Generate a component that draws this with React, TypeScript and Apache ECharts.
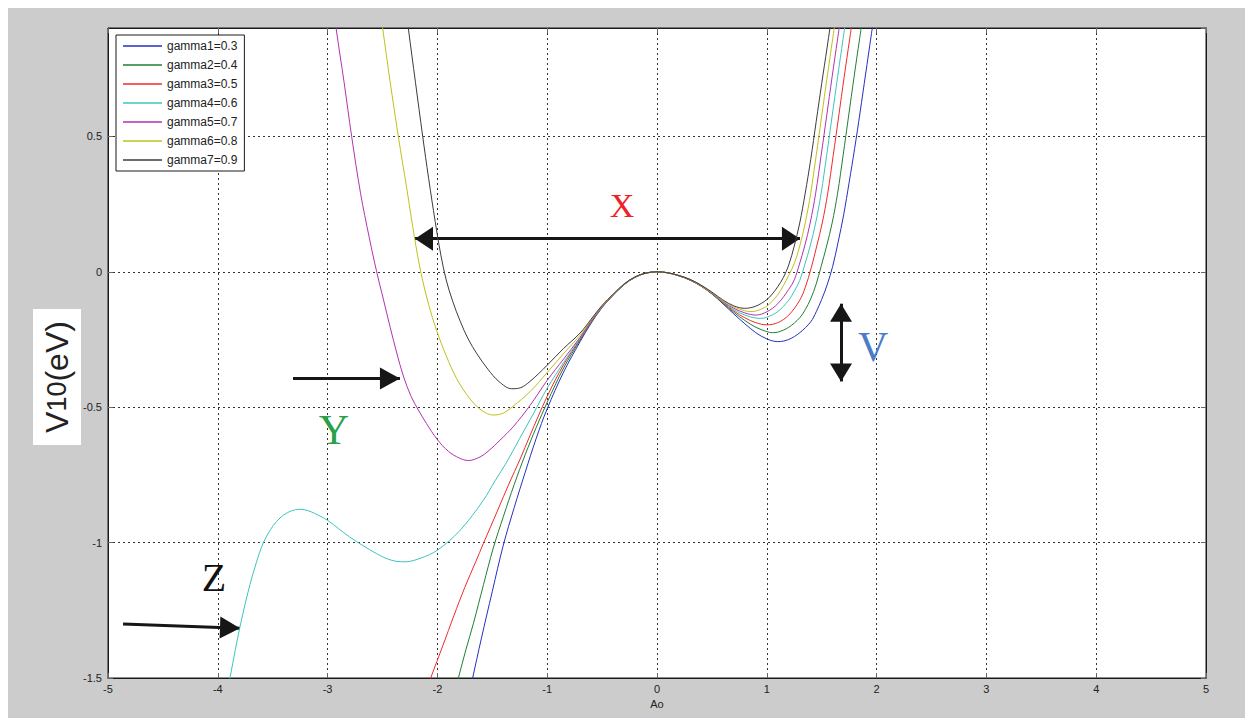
import React, { useEffect, useRef } from "react";
import * as echarts from "echarts";

// ---------- data ----------
const gammaNames = [
  "gamma1=0.3",
  "gamma2=0.4",
  "gamma3=0.5",
  "gamma4=0.6",
  "gamma5=0.7",
  "gamma6=0.8",
  "gamma7=0.9",
];

const curveGamma1: [number, number][] = [
  [-1.71, -1.56], [-1.679, -1.5], [-1.6, -1.355], [-1.5, -1.18], [-1.4, -1.01], [-1.3, -0.87],
  [-1.2, -0.74], [-1.1, -0.615], [-1.0, -0.506], [-0.85, -0.37], [-0.7, -0.258], [-0.6, -0.19],
  [-0.5, -0.132], [-0.4, -0.087], [-0.3, -0.048], [-0.2, -0.021], [-0.1, -0.005], [0, 0],
  [0.1, -0.004], [0.2, -0.015], [0.3, -0.031], [0.4, -0.053], [0.5, -0.082], [0.6, -0.118],
  [0.7, -0.156], [0.8, -0.192], [0.9, -0.225], [1.0, -0.248], [1.1, -0.258], [1.2, -0.25],
  [1.3, -0.225], [1.4, -0.185], [1.45, -0.148], [1.5, -0.102], [1.55, -0.048], [1.6, 0.02],
  [1.65, 0.11], [1.7, 0.21], [1.75, 0.33], [1.8, 0.455], [1.85, 0.59], [1.9, 0.73], [1.95, 0.87],
  [2.0, 1.01],
];

const curveGamma2: [number, number][] = [
  [-1.84, -1.55], [-1.809, -1.5], [-1.74, -1.395], [-1.673, -1.3], [-1.58, -1.155], [-1.491, -1.02],
  [-1.4, -0.905], [-1.3, -0.785], [-1.2, -0.675], [-1.1, -0.575], [-1.0, -0.482], [-0.85, -0.355],
  [-0.7, -0.252], [-0.6, -0.187], [-0.5, -0.131], [-0.4, -0.086], [-0.3, -0.048], [-0.2, -0.02],
  [-0.1, -0.005], [0, 0], [0.1, -0.004], [0.2, -0.015], [0.3, -0.03], [0.4, -0.052], [0.5, -0.081],
  [0.6, -0.116], [0.7, -0.15], [0.8, -0.18], [0.9, -0.205], [1.0, -0.221], [1.05, -0.225],
  [1.1, -0.223], [1.2, -0.205], [1.3, -0.17], [1.35, -0.14], [1.4, -0.1], [1.45, -0.045],
  [1.495, 0.02], [1.545, 0.095], [1.595, 0.18], [1.645, 0.29], [1.695, 0.43], [1.745, 0.575],
  [1.795, 0.72], [1.845, 0.86], [1.895, 1.0],
];

const curveGamma3: [number, number][] = [
  [-2.1, -1.545], [-2.061, -1.5], [-1.95, -1.38], [-1.85, -1.27], [-1.75, -1.165], [-1.65, -1.07],
  [-1.582, -1.004], [-1.45, -0.88], [-1.345, -0.78], [-1.25, -0.695], [-1.157, -0.605], [-1.0, -0.46],
  [-0.85, -0.343], [-0.7, -0.248], [-0.6, -0.185], [-0.5, -0.13], [-0.4, -0.086], [-0.3, -0.047],
  [-0.2, -0.02], [-0.1, -0.005], [0, 0], [0.1, -0.004], [0.2, -0.015], [0.3, -0.03], [0.4, -0.052],
  [0.5, -0.08], [0.6, -0.114], [0.7, -0.145], [0.8, -0.17], [0.9, -0.188], [1.0, -0.196],
  [1.1, -0.188], [1.2, -0.16], [1.3, -0.105], [1.35, -0.058], [1.405, 0.015], [1.455, 0.095],
  [1.505, 0.18], [1.555, 0.29], [1.605, 0.43], [1.655, 0.575], [1.705, 0.72], [1.755, 0.86],
  [1.805, 1.0],
];

const curveGamma4: [number, number][] = [
  [-3.92, -1.57], [-3.889, -1.5], [-3.84, -1.395], [-3.798, -1.311], [-3.75, -1.225],
  [-3.707, -1.155], [-3.65, -1.075], [-3.585, -1.0], [-3.52, -0.952], [-3.464, -0.922],
  [-3.4, -0.898], [-3.33, -0.883], [-3.251, -0.877], [-3.18, -0.882], [-3.12, -0.892],
  [-3.0, -0.918], [-2.8, -0.979], [-2.553, -1.041], [-2.42, -1.065], [-2.295, -1.071],
  [-2.15, -1.057], [-2.0, -1.028], [-1.794, -0.955], [-1.582, -0.844], [-1.475, -0.772],
  [-1.369, -0.703], [-1.25, -0.615], [-1.127, -0.525], [-1.0, -0.43], [-0.85, -0.335],
  [-0.7, -0.245], [-0.6, -0.183], [-0.5, -0.129], [-0.4, -0.085], [-0.3, -0.047], [-0.2, -0.02],
  [-0.1, -0.005], [0, 0], [0.1, -0.004], [0.2, -0.014], [0.3, -0.029], [0.4, -0.051],
  [0.5, -0.079], [0.6, -0.112], [0.7, -0.14], [0.8, -0.16], [0.9, -0.171], [0.95, -0.172],
  [1.0, -0.168], [1.1, -0.147], [1.2, -0.105], [1.25, -0.072], [1.3, -0.032], [1.345, 0.025],
  [1.395, 0.095], [1.445, 0.18], [1.495, 0.29], [1.545, 0.43], [1.595, 0.575], [1.645, 0.72],
  [1.695, 0.86], [1.745, 1.0],
];

const curveGamma5: [number, number][] = [
  [-2.96, 1.02], [-2.923, 0.9], [-2.85, 0.7], [-2.781, 0.5], [-2.7, 0.29], [-2.62, 0.125],
  [-2.553, 0.0], [-2.49, -0.105], [-2.43, -0.205], [-2.37, -0.3], [-2.31, -0.385], [-2.24, -0.46],
  [-2.174, -0.51], [-2.1, -0.56], [-2.0, -0.62], [-1.9, -0.663], [-1.8, -0.688], [-1.718, -0.697],
  [-1.612, -0.684], [-1.53, -0.66], [-1.43, -0.622], [-1.309, -0.572], [-1.157, -0.494],
  [-1.0, -0.401], [-0.85, -0.322], [-0.7, -0.242], [-0.6, -0.182], [-0.5, -0.128], [-0.4, -0.085],
  [-0.3, -0.046], [-0.2, -0.02], [-0.1, -0.005], [0, 0], [0.1, -0.004], [0.2, -0.014],
  [0.3, -0.029], [0.4, -0.05], [0.5, -0.078], [0.6, -0.11], [0.7, -0.135], [0.8, -0.152],
  [0.9, -0.16], [1.0, -0.148], [1.1, -0.118], [1.2, -0.065], [1.25, -0.03], [1.295, 0.025],
  [1.345, 0.095], [1.395, 0.18], [1.445, 0.29], [1.495, 0.43], [1.545, 0.575], [1.595, 0.72],
  [1.645, 0.86], [1.695, 1.0],
];

const curveGamma6: [number, number][] = [
  [-2.54, 1.01], [-2.499, 0.9], [-2.43, 0.7], [-2.356, 0.5], [-2.28, 0.31], [-2.21, 0.13],
  [-2.152, 0.0], [-2.08, -0.12], [-2.007, -0.217], [-1.92, -0.31], [-1.824, -0.395],
  [-1.73, -0.455], [-1.642, -0.497], [-1.56, -0.521], [-1.49, -0.529], [-1.4, -0.522],
  [-1.309, -0.496], [-1.157, -0.443], [-1.0, -0.372], [-0.85, -0.302], [-0.7, -0.234],
  [-0.6, -0.178], [-0.5, -0.126], [-0.4, -0.084], [-0.3, -0.046], [-0.2, -0.019], [-0.1, -0.005],
  [0, 0], [0.1, -0.004], [0.2, -0.014], [0.3, -0.028], [0.4, -0.05], [0.5, -0.077], [0.6, -0.108],
  [0.7, -0.13], [0.8, -0.144], [0.85, -0.147], [0.9, -0.145], [1.0, -0.127], [1.1, -0.085],
  [1.15, -0.052], [1.2, -0.013], [1.25, 0.03], [1.3, 0.095], [1.35, 0.18], [1.4, 0.29],
  [1.45, 0.43], [1.5, 0.575], [1.55, 0.72], [1.6, 0.86], [1.65, 1.0],
];

const curveGamma7: [number, number][] = [
  [-2.3, 1.02], [-2.265, 0.9], [-2.2, 0.7], [-2.134, 0.5], [-2.08, 0.345], [-2.02, 0.185],
  [-1.97, 0.065], [-1.92, -0.03], [-1.86, -0.11], [-1.79, -0.185], [-1.72, -0.248],
  [-1.64, -0.303], [-1.54, -0.36], [-1.44, -0.405], [-1.324, -0.432], [-1.24, -0.428],
  [-1.157, -0.405], [-1.08, -0.377], [-1.0, -0.345], [-0.85, -0.283], [-0.7, -0.226],
  [-0.6, -0.175], [-0.5, -0.124], [-0.4, -0.083], [-0.3, -0.045], [-0.2, -0.019], [-0.1, -0.005],
  [0, 0], [0.1, -0.004], [0.2, -0.014], [0.3, -0.028], [0.4, -0.049], [0.5, -0.075], [0.6, -0.104],
  [0.7, -0.126], [0.8, -0.135], [0.9, -0.127], [1.0, -0.103], [1.05, -0.082], [1.1, -0.055],
  [1.15, -0.022], [1.2, 0.025], [1.25, 0.095], [1.3, 0.18], [1.35, 0.29], [1.4, 0.415],
  [1.45, 0.555], [1.5, 0.695], [1.55, 0.83], [1.6, 0.97], [1.65, 1.11],
];

const curves = [
  curveGamma1, curveGamma2, curveGamma3, curveGamma4, curveGamma5, curveGamma6, curveGamma7,
];

// axis extents / ticks
const xRange = [-5, 5];
const yRange = [-1.5, 0.9];
const xStep = 1;
const yStep = 0.5;
const xAxisTitle = "Ao";
const yAxisTitle = "{v|V}{s|10}{v|(eV)}";

// annotations (data coordinates)
const arrowX: [number, number][] = [[-2.204, 0.122], [1.302, 0.122]];
const arrowV: [number, number][] = [[1.676, -0.118], [1.676, -0.405]];
const arrowY: [number, number][] = [[-3.315, -0.394], [-2.341, -0.394]];
const arrowZ: [number, number][] = [[-4.863, -1.301], [-3.798, -1.316]];
const letterLabels = ["X", "V", "Y", "Z"];
const letterCoords: [number, number][] = [[-0.319, 0.243], [1.968, -0.276], [-2.942, -0.586], [-4.035, -1.128]];

// ---------- styles ----------
const lineColors = ["#2331bf", "#1f7f33", "#f02a2a", "#3cc4bd", "#b133b1", "#c0c01c", "#3c3c3c"];
const letterColors = ["#ee2222", "#4a7cc8", "#2aa04a", "#111111"];
const letterSizes = [34, 42, 42, 40];
const SANS = "'Liberation Sans', Arial, sans-serif";
const SERIF = "'Liberation Serif', 'Times New Roman', serif";

export default function App() {
  const ref = useRef<HTMLDivElement>(null);

  useEffect(() => {
    document.documentElement.style.overflow = "hidden";
    document.body.style.overflow = "hidden";
    const chart = echarts.init(ref.current as HTMLDivElement, null, { renderer: "svg" });

    const head = (size: [number, number]) => ({
      symbol: "triangle",
      symbolSize: size,
      symbolOffset: [0, "50%"],
    });
    const none = { symbol: "none" };

    const series: any[] = curves.map((d, i) => ({
      name: gammaNames[i],
      type: "line",
      data: d,
      smooth: 0.35,
      symbol: "none",
      showSymbol: false,
      silent: true,
      z: 2 + i,
      lineStyle: { color: lineColors[i], width: 1 },
      itemStyle: { color: lineColors[i] },
    }));

    series.push({
      name: "annotations",
      type: "line",
      data: [],
      silent: true,
      z: 20,
      markLine: {
        silent: true,
        animation: false,
        precision: 4,
        label: { show: false },
        lineStyle: { color: "#161616", width: 3, type: "solid" },
        data: [
          [{ coord: arrowX[0], ...head([24, 18]) }, { coord: arrowX[1], ...head([24, 18]) }],
          [{ coord: arrowV[0], ...head([22, 18]) }, { coord: arrowV[1], ...head([22, 18]) }],
          [{ coord: arrowY[0], ...none }, { coord: arrowY[1], ...head([22, 20]) }],
          [{ coord: arrowZ[0], ...none }, { coord: arrowZ[1], ...head([22, 20]) }],
        ],
      },
      markPoint: {
        silent: true,
        animation: false,
        symbol: "rect",
        symbolSize: 1,
        itemStyle: { color: "rgba(0,0,0,0)" },
        data: letterLabels.map((t, i) => ({
          name: t,
          coord: letterCoords[i],
          label: {
            show: true,
            position: "inside",
            formatter: "{b}",
            color: letterColors[i],
            fontSize: letterSizes[i],
            fontFamily: SERIF,
          },
        })),
      },
    });

    const tickStyle = { inside: true, length: 5, lineStyle: { color: "#666", width: 1 } };
    const gridLine = { show: true, lineStyle: { color: "#333", width: 1, type: [2, 3] as any } };

    chart.setOption({
      animation: false,
      backgroundColor: "#cccccc",
      textStyle: { fontFamily: SANS },
      grid: {
        left: 100,
        right: 47,
        top: 20,
        bottom: 40,
        show: true,
        backgroundColor: "#ffffff",
        borderColor: "#1a1a1a",
        borderWidth: 1,
      },
      graphic: [
        {
          type: "text",
          x: 49,
          y: 369,
          rotation: Math.PI / 2,
          silent: true,
          z: 30,
          style: {
            text: yAxisTitle,
            align: "center",
            verticalAlign: "middle",
            backgroundColor: "#ffffff",
            padding: [8, 12, 8, 12],
            fill: "#222",
            fontFamily: SANS,
            fontSize: 32,
            rich: {
              v: { fontSize: 32, fill: "#222", fontFamily: SANS, verticalAlign: "middle" },
              s: { fontSize: 27, fill: "#222", fontFamily: SANS, verticalAlign: "middle" },
            },
          },
        },
      ],
      legend: {
        data: gammaNames,
        orient: "vertical",
        left: 108,
        top: 27,
        padding: [5, 7, 5, 7],
        itemGap: 7,
        itemWidth: 39,
        itemHeight: 1.5,
        icon: "rect",
        backgroundColor: "#ffffff",
        borderColor: "#1a1a1a",
        borderWidth: 1,
        selectedMode: false,
        textStyle: { fontSize: 12, color: "#222", fontFamily: SANS },
      },
      xAxis: [
        {
          type: "value",
          min: xRange[0],
          max: xRange[1],
          interval: xStep,
          name: xAxisTitle,
          nameLocation: "middle",
          nameGap: 20,
          nameTextStyle: { fontSize: 11, color: "#222", fontFamily: SANS },
          axisLine: { show: true, onZero: false, lineStyle: { color: "#1a1a1a", width: 1 } },
          axisTick: tickStyle,
          axisLabel: { fontSize: 11, color: "#222", margin: 5, fontFamily: SANS },
          splitLine: gridLine,
        },
        {
          type: "value",
          position: "top",
          min: xRange[0],
          max: xRange[1],
          interval: xStep,
          axisLine: { show: true, onZero: false, lineStyle: { color: "#1a1a1a", width: 1 } },
          axisTick: tickStyle,
          axisLabel: { show: false },
          splitLine: { show: false },
        },
      ],
      yAxis: [
        {
          type: "value",
          min: yRange[0],
          max: yRange[1],
          interval: yStep,
          axisLine: { show: true, onZero: false, lineStyle: { color: "#1a1a1a", width: 1 } },
          axisTick: tickStyle,
          axisLabel: {
            fontSize: 11,
            color: "#222",
            margin: 6,
            fontFamily: SANS,
            showMaxLabel: false,
          },
          splitLine: gridLine,
        },
        {
          type: "value",
          position: "right",
          min: yRange[0],
          max: yRange[1],
          interval: yStep,
          axisLine: { show: true, onZero: false, lineStyle: { color: "#1a1a1a", width: 1 } },
          axisTick: tickStyle,
          axisLabel: { show: false },
          splitLine: { show: false },
        },
      ],
      series,
    });

    return () => {
      chart.dispose();
    };
  }, []);

  return <div ref={ref} style={{ width: 1245, height: 710 }} />;
}
